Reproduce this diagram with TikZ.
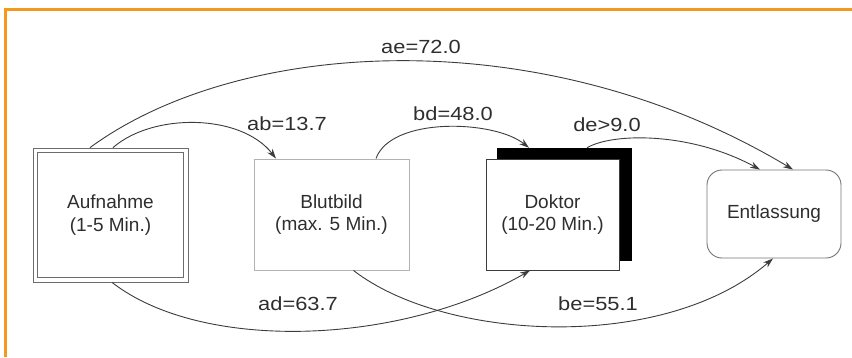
\documentclass[tikz,border=0pt]{standalone}
\usepackage{fontspec}
\usepackage{graphicx}
\setmainfont{Liberation Sans}
\usetikzlibrary{arrows.meta,calc}
\definecolor{frameorange}{HTML}{F39A1E}
\definecolor{linegray}{HTML}{3C3C3C}
\definecolor{textgray}{HTML}{2E2E2E}
\newcommand{\wlbl}[1]{\scalebox{1.15}[1]{#1}}
\tikzset{
  boxtext/.style={font=\fontsize{19}{22.5}\selectfont, text=textgray, align=center, inner sep=0pt},
  lbl/.style={font=\fontsize{19}{22}\selectfont, text=textgray, inner sep=0pt},
  conn/.style={draw=linegray, line width=0.9pt},
  arr/.style={conn, -{Stealth[length=10pt,width=6.5pt]}},
}
\begin{document}
\begin{tikzpicture}[x=1pt,y=-1pt]
\useasboundingbox (0,0) rectangle (852,357);
% orange frame
\draw[frameorange, line width=3pt] (4,9) -- (852,9);
\draw[frameorange, line width=3pt] (5.5,7.5) -- (5.5,357);

% nodes
\node[boxtext, draw=gray!85!black, line width=0.8pt,
      minimum width=155pt, minimum height=134pt] (a) at (110.5,215) {Aufnahme\\(1-5 Min.)};
\draw[gray!85!black, line width=0.8pt] ([xshift=5pt,yshift=-5pt]a.north west) rectangle ([xshift=-5pt,yshift=5pt]a.south east);
\node[boxtext, draw=gray!60, line width=0.9pt, minimum width=155pt, minimum height=111pt] (b) at (331.5,214.5) {Blutbild\\(max. 5 Min.)};
\node[fill=black, draw=black, minimum width=134pt, minimum height=112pt, inner sep=0pt] (ds) at (564,204) {};
\node[boxtext, fill=white, draw=linegray, line width=0.9pt, minimum width=133pt, minimum height=111pt] (d) at (552.5,214.5) {Doktor\\(10-20 Min.)};
\node[boxtext, draw=gray!90!black, line width=0.9pt, rounded corners=15pt, minimum width=134pt, minimum height=88pt] (e) at (774,214) {Entlassung};

% connectors
\draw[arr] ([xshift=-20.5pt]a.north) .. controls +(150,-110) and +(-250,-150) .. ([xshift=19pt]e.north);
\draw[arr] ([xshift=2.5pt]a.north) .. controls +(40,-35) and +(-35,-45) .. ([xshift=-55.5pt]b.north);
\draw[arr] ([xshift=44.5pt]b.north) .. controls +(15,-42) and +(-35,-28) .. ([xshift=-35pt]ds.north);
\draw[arr] ([xshift=23pt]ds.north) .. controls +(25,-15) and +(-70,-38) .. ([xshift=-14pt]e.north);
\draw[arr] ([xshift=1.5pt]a.south) .. controls +(90,70) and +(-130,75) .. ([xshift=-22.5pt]d.south);
\draw[arr] ([xshift=22pt]b.south) .. controls +(90,70) and +(-110,95) .. ([xshift=-1pt]e.south);

% labels
\node[lbl] (lae) at (421,47) {\wlbl{ae=72.0}};
\node[lbl] (lab) at (287,124) {\wlbl{ab=13.7}};
\node[lbl] (lbd) at (453,114) {\wlbl{bd=48.0}};
\node[lbl] (lde) at (607,125) {\wlbl{de>9.0}};
\node[lbl] (lad) at (298,304) {\wlbl{ad=63.7}};
\node[lbl] (lbe) at (598,304) {\wlbl{be=55.1}};
\end{tikzpicture}
\end{document}
